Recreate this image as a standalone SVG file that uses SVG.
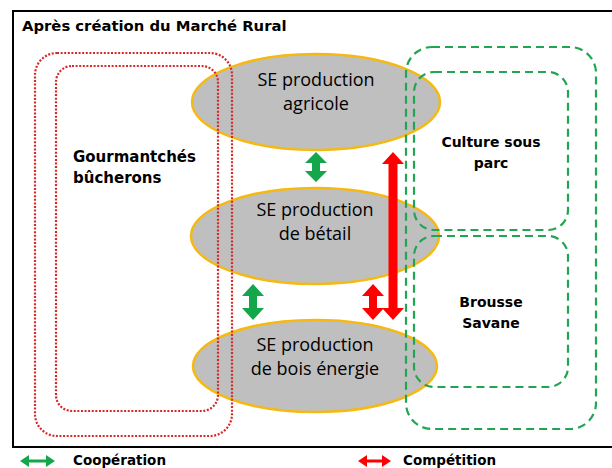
<svg xmlns="http://www.w3.org/2000/svg" width="612" height="468" viewBox="0 0 612 468">
<style>
.frame{fill:none;stroke:#000;stroke-width:2}
.title{font-family:"DejaVu Sans",sans-serif;font-weight:bold;font-size:14.8px;fill:#000}
.lbl{font-family:"DejaVu Sans",sans-serif;font-weight:bold;font-size:14px;fill:#000}
.big{font-size:15px}
.leg{font-family:"DejaVu Sans",sans-serif;font-weight:bold;font-size:13.5px;fill:#000}
.se{fill:#bfbfbf;stroke:#f5b912;stroke-width:2.5}
.setxt{font-family:"Open Sans",sans-serif;font-size:18px;fill:#000;text-anchor:middle}
.reddot{fill:none;stroke:#d42a2a;stroke-width:2.2;stroke-dasharray:2 1.6}
.greendash{fill:none;stroke:#22a552;stroke-width:2.2;stroke-dasharray:8 5}
.coop{fill:#14a64a}
.comp{fill:#ff0000}
</style>
<rect width="612" height="468" fill="#fff"/>
<rect class="frame" x="13" y="11" width="620" height="436"/>
<text class="title" x="22" y="31">Après création du Marché Rural</text>

<g id="se-agricole">
<ellipse class="se" cx="316" cy="102" rx="124" ry="48"/>
<text class="setxt" x="316" y="86">SE production</text>
<text class="setxt" x="316" y="110">agricole</text>
</g>
<g id="se-betail">
<ellipse class="se" cx="315" cy="236" rx="124" ry="48"/>
<text class="setxt" x="315" y="216">SE production</text>
<text class="setxt" x="315" y="240">de bétail</text>
</g>
<g id="se-bois">
<ellipse class="se" cx="315" cy="366" rx="122" ry="46"/>
<text class="setxt" x="315" y="351">SE production</text>
<text class="setxt" x="315" y="375">de bois énergie</text>
</g>

<g id="gourmantches">
<rect class="reddot" x="35" y="53" width="197" height="383" rx="22"/>
<rect class="reddot" x="56" y="66" width="162" height="345" rx="16"/>
<text class="lbl big" x="73" y="162">Gourmantchés</text>
<text class="lbl big" x="73" y="183">bûcherons</text>
</g>

<g id="zones">
<rect class="greendash" x="406" y="47" width="190" height="382" rx="26"/>
</g>
<g id="culture-sous-parc">
<rect class="greendash" x="414" y="72" width="154" height="158" rx="20"/>
<text class="lbl" x="491" y="147" text-anchor="middle">Culture sous</text>
<text class="lbl" x="491" y="168" text-anchor="middle">parc</text>
</g>
<g id="brousse-savane">
<rect class="greendash" x="414" y="236" width="154" height="151" rx="20"/>
<text class="lbl" x="491" y="307" text-anchor="middle">Brousse</text>
<text class="lbl" x="491" y="328" text-anchor="middle">Savane</text>
</g>

<g id="connectors">
<polygon class="coop" points="316,152 327,163 320,163 320,171 327,171 316,182 305,171 312,171 312,163 305,163"/>
<polygon class="coop" points="253,284 264,296 257,296 257,308 264,308 253,320 242,308 249,308 249,296 242,296"/>
<polygon class="comp" points="373,284 384,296 377,296 377,308 384,308 373,320 362,308 369,308 369,296 362,296"/>
<polygon class="comp" points="393,152 404,164 397.5,164 397.5,308 404,308 393,320 382,308 388.5,308 388.5,164 382,164"/>
</g>

<g id="legend">
<polygon class="coop" points="20,461 29,455 29,459.5 46,459.5 46,455 55,461 46,467 46,462.5 29,462.5 29,467"/>
<text class="leg" x="73" y="465">Coopération</text>
<polygon class="comp" points="358,461 367,455 367,459.5 382,459.5 382,455 391,461 382,467 382,462.5 367,462.5 367,467"/>
<text class="leg" x="403" y="465">Compétition</text>
</g>
</svg>
